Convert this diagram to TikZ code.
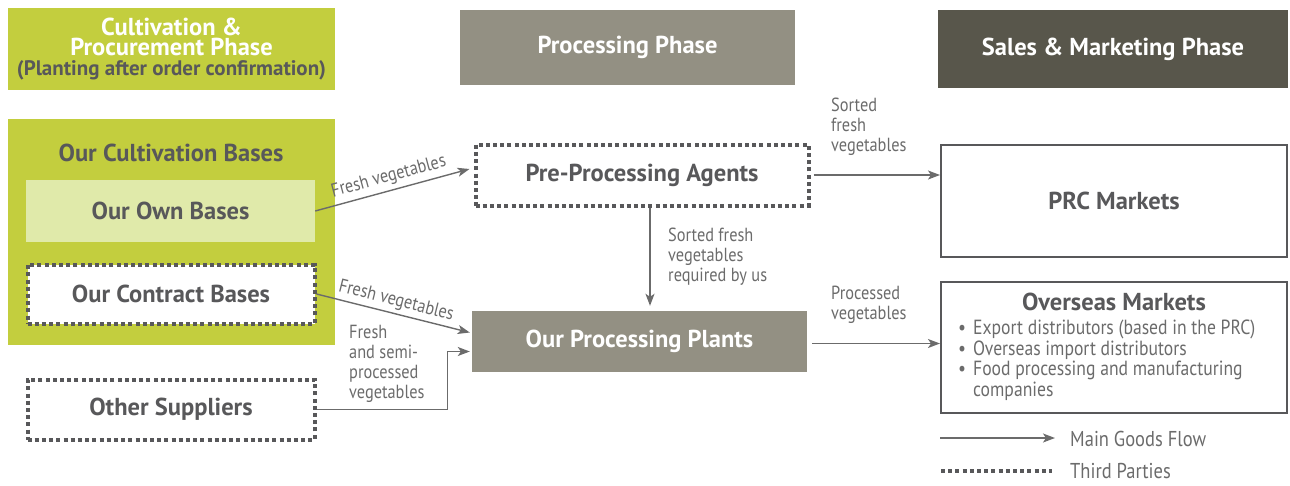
\documentclass[tikz,border=0pt]{standalone}
\usepackage{fontspec}
\setmainfont{PT Sans}
\newfontfamily\labfont{PT Sans}[FakeStretch=0.86]
\usetikzlibrary{arrows.meta}
\definecolor{lime}{HTML}{C3CE3E}
\definecolor{lightlime}{HTML}{E0EAAA}
\definecolor{procgrey}{HTML}{939083}
\definecolor{darkhead}{HTML}{58564B}
\definecolor{txtdark}{HTML}{58585A}
\definecolor{linegrey}{HTML}{6B6B6B}
\begin{document}
\begin{tikzpicture}[x=1pt,y=-1pt,
  box/.style={rectangle, inner sep=0pt, font=\bfseries\fontsize{24.5}{21}\selectfont, text=txtdark, align=center},
  dotbox/.style={box, draw=txtdark, line width=4pt, dash pattern=on 4pt off 3.2pt, fill=white},
  mktbox/.style={rectangle, draw=txtdark, line width=2pt, inner sep=0pt},
  flow/.style={draw=linegrey, line width=1.4pt, -{Stealth[length=12pt,width=9pt,inset=3pt]}},
  lab/.style={font=\labfont\fontsize{19}{20}\selectfont, text=linegrey, align=left, inner sep=0pt},
  legtxt/.style={font=\labfont\fontsize{21.5}{22}\selectfont, text=linegrey, inner sep=0pt, anchor=west},
]
\useasboundingbox (0,0) rectangle (1290,485);

% headers
\node[box, fill=lime, text=white, minimum width=327pt, minimum height=82pt] (h1) at (171.5,49)
  {Cultivation \&\\[-1pt]Procurement Phase\\[-1pt]\color{txtdark}\fontsize{21}{21}\selectfont(Planting after order confirmation)};
\node[box, fill=procgrey, text=white, minimum width=335pt, minimum height=75pt] (h2) at (627.5,47.5) {Processing Phase};
\node[box, fill=darkhead, text=white, minimum width=350pt, minimum height=78pt] (h3) at (1113,49) {Sales \& Marketing Phase};

% cultivation group
\node[box, fill=lime, minimum width=327pt, minimum height=226pt] (cb) at (171.5,232) {};
\node[box] (cbt) at (171,153) {Our Cultivation Bases};
\node[box, fill=lightlime, minimum width=289pt, minimum height=62pt] (own) at (170.5,211) {Our Own Bases};
\node[dotbox, minimum width=287pt, minimum height=59pt] (contract) at (171,294) {Our Contract Bases};
\node[dotbox, minimum width=287pt, minimum height=60pt] (other) at (171,409.5) {Other Suppliers};

% processing
\node[dotbox, minimum width=333pt, minimum height=61pt] (pre) at (642,175) {Pre-Processing Agents};
\node[box, fill=procgrey, text=white, minimum width=335pt, minimum height=61pt] (plants) at (639.5,341.5) {Our Processing Plants};

% markets
\node[mktbox, box, minimum width=346pt, minimum height=112pt] (prc) at (1114,201) {PRC Markets};
\node[mktbox, minimum width=346pt, minimum height=131pt] (over) at (1114,347.5) {};
\node[box] (overt) at (1114,302) {Overseas Markets};
\node[lab, anchor=north west, font=\labfont\fontsize{20.5}{20}\selectfont] (overl) at (958,320)
  {\begin{tabular}{@{}l@{\hspace{7pt}}l@{}}
   \textbullet & Export distributors (based in the PRC)\\
   \textbullet & Overseas import distributors\\
   \textbullet & Food processing and manufacturing\\
               & companies
   \end{tabular}};

% connectors
\coordinate (preIn) at ([xshift=-4pt,yshift=6pt]pre.west);
\draw[flow] (own.east) -- node[lab, sloped, above=4pt] {Fresh vegetables} (preIn);
\coordinate (plIn1) at ([xshift=-2pt,yshift=9pt]plants.west);
\draw[flow] (contract.east) -- node[lab, sloped, above=3pt, pos=0.5] {Fresh vegetables} (plIn1);
\coordinate (plIn2) at ([xshift=-2pt,yshift=-10pt]plants.west);
\draw[flow] (other.east) -- ++(131,0) |- (plIn2);
\node[lab, anchor=north west] (l3) at (349,325) {Fresh\\and semi-\\processed\\vegetables};

\coordinate (preOut) at ([xshift=8pt]pre.south);
\coordinate (plTop) at ([xshift=10.5pt,yshift=5pt]plants.north);
\draw[flow] (preOut) -- (plTop);
\node[lab, anchor=north west] (l4) at (668,228) {Sorted fresh\\vegetables\\required by us};

\draw[flow, shorten <=3pt] (pre.east) -- (pre.east -| prc.west);
\node[lab, anchor=north west] (l5) at (831,98) {Sorted\\fresh\\vegetables};
\draw[flow, shorten <=5pt] ([yshift=-2pt]plants.east) -- ([yshift=-2pt]plants.east -| over.west);
\node[lab, anchor=north west] (l6) at (831,286) {Processed\\vegetables};

% legend
\coordinate (lgA) at (940,438);
\coordinate (lgB) at (1055,438);
\draw[flow] (lgA) -- (lgB);
\node[legtxt] (lgt1) at (1070,439) {Main Goods Flow};
\coordinate (lgC) at (941,471);
\coordinate (lgD) at (1052,471);
\draw[draw=txtdark, line width=4pt, dash pattern=on 4pt off 3.2pt] (lgC) -- (lgD);
\node[legtxt] (lgt2) at (1070,471) {Third Parties};
\end{tikzpicture}
\end{document}
